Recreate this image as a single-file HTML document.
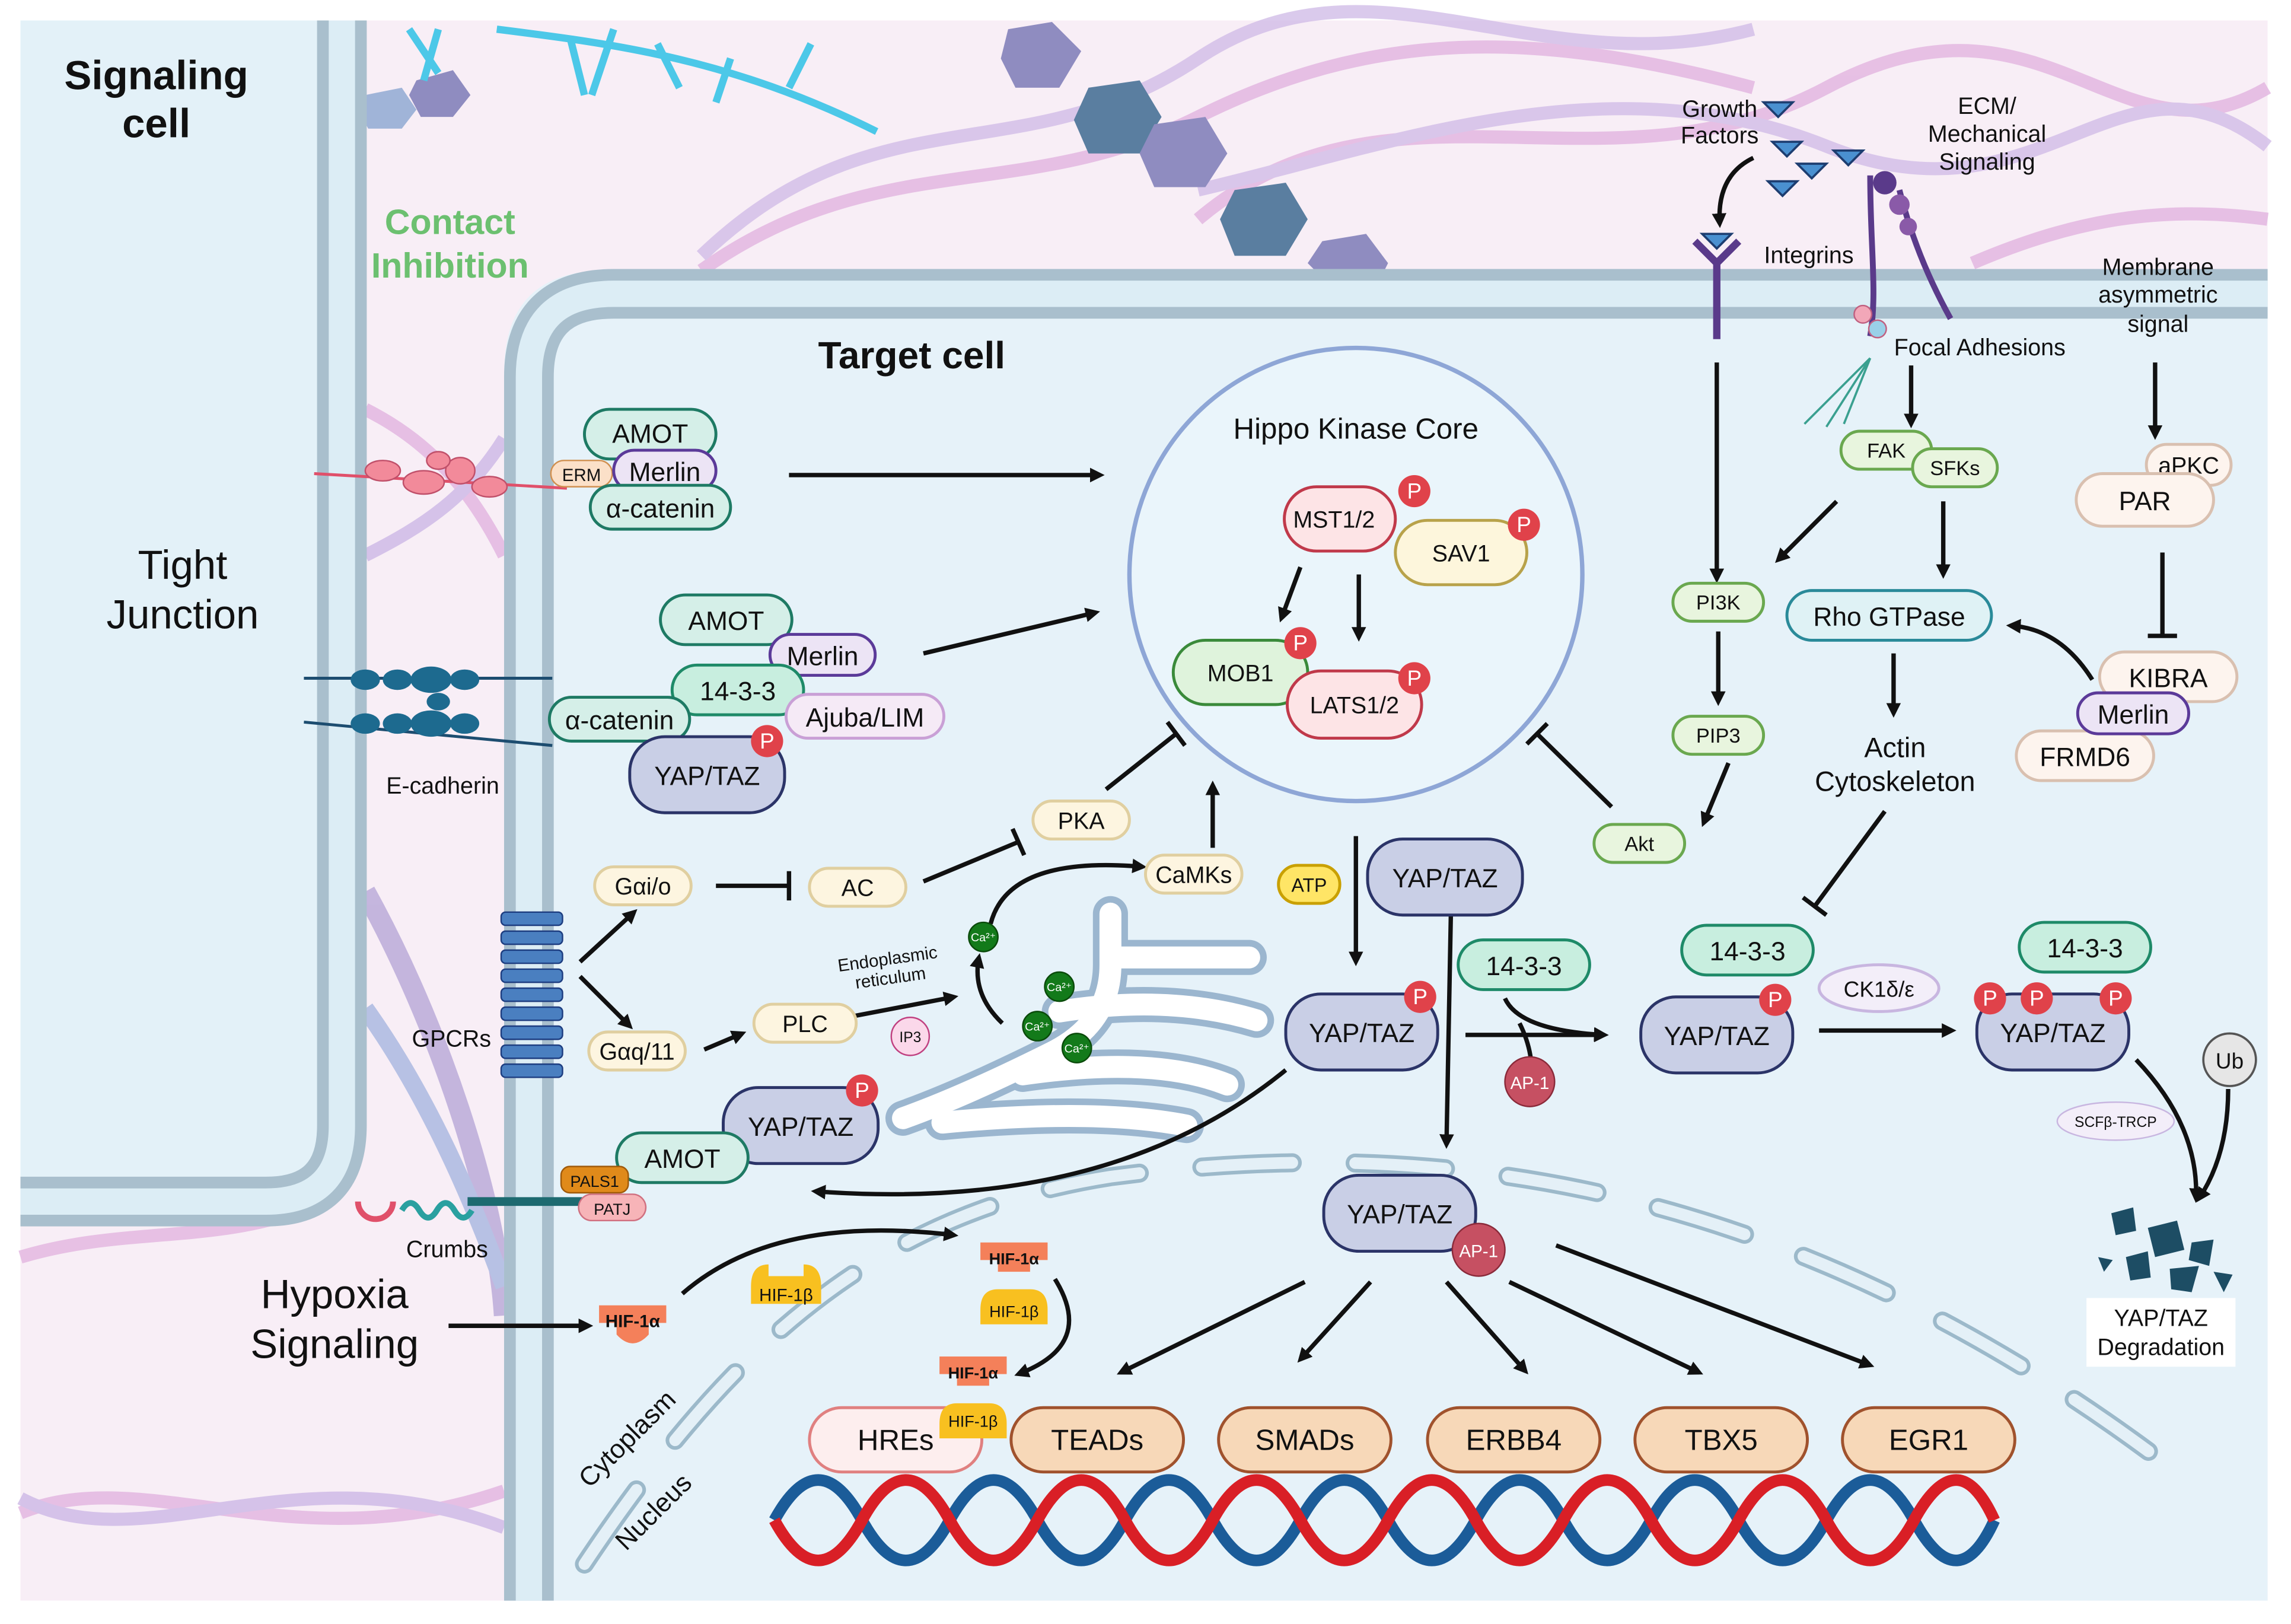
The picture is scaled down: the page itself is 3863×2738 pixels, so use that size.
<!DOCTYPE html>
<html><head><meta charset="utf-8"><style>
html,body{margin:0;padding:0;background:#fff;}
svg{display:block;}
text{font-family:"Liberation Sans",sans-serif;fill:#111;}
</style></head><body>
<svg width="3863" height="2738" viewBox="0 0 1568 1111" preserveAspectRatio="none" xmlns="http://www.w3.org/2000/svg">
<defs>
<marker id="ah" markerWidth="10" markerHeight="10" refX="7" refY="5" orient="auto" markerUnits="userSpaceOnUse"><path d="M0,0 L10,5 L0,10 Z" fill="#111"/></marker>
</defs>
<rect x="0" y="0" width="1568" height="1111" fill="#fff"/>
<rect x="14" y="14" width="1538" height="1081" fill="#f8eef6"/>
<g fill="none" stroke-width="9" opacity="0.8">
<path d="M480 185 C600 100 700 140 820 80 S1050 20 1200 60" stroke="#e2b4e0"/>
<path d="M480 175 C600 60 700 120 820 40 S1050 60 1200 20" stroke="#d2bde8"/>
<path d="M820 150 C950 40 1100 140 1250 60 S1450 120 1552 60" stroke="#e2b4e0"/>
<path d="M820 130 C950 100 1100 40 1250 100 S1450 20 1552 100" stroke="#d2bde8"/>
<path d="M1350 180 C1420 150 1480 140 1552 150" stroke="#e2b4e0"/>
<path d="M14 1035 C100 1000 200 1070 345 1020" stroke="#e2b4e0"/>
<path d="M14 1025 C100 1070 200 990 345 1045" stroke="#cdb8e6"/>
<path d="M14 860 C80 840 140 850 200 830" stroke="#e2b4e0"/>
<path d="M250 280 C290 300 320 330 345 380" stroke="#e2b4e0"/>
<path d="M250 380 C290 360 320 340 345 300" stroke="#cdb8e6"/>
<path d="M250 610 C300 700 340 820 345 900" stroke="#b8a8d8" stroke-width="14"/>
<path d="M250 690 C300 760 330 840 345 880" stroke="#a8b6e0" stroke-width="12"/>
</g>
<g fill="#8f8cc0">
<polygon points="690,20 720,15 740,35 725,60 695,60 685,40"/>
<polygon points="745,60 780,55 795,80 780,105 745,105 735,82" fill="#5a7ea0"/>
<polygon points="790,85 825,80 840,105 825,128 790,128 780,105"/>
<polygon points="845,130 880,125 895,150 880,175 845,175 835,150" fill="#5a7ea0"/>
<polygon points="905,165 935,160 950,180 945,190 905,190 895,180"/>
<polygon points="250,65 275,60 285,75 275,88 252,88 245,75" fill="#a0b4d8"/>
<polygon points="285,55 310,48 322,65 310,80 288,80 280,65"/>
</g>
<g stroke="#4cc8e8" stroke-width="5" fill="none">
<path d="M340 20 C420 30 500 40 600 90"/>
<path d="M280 20 l20 30 M300 20 l-10 35 M390 25 l10 40 M420 20 l-15 45 M450 30 l15 30 M500 40 l-10 30 M540 60 l15 -30"/>
</g>
<path d="M14 14 H234 V770 Q234 822 182 822 H14 Z" fill="#e3f1f8"/>
<path d="M234 14 V770 Q234 822 182 822 H14" fill="none" stroke="#a9bfcd" stroke-width="34"/>
<path d="M234 14 V770 Q234 822 182 822 H14" fill="none" stroke="#dcedf5" stroke-width="18"/>
<path d="M345 1095 V255 Q345 185 415 185 H1552 V1095 Z" fill="#e6f2f9"/>
<path d="M362 1095 V258 Q362 201 420 201 H1552" fill="none" stroke="#a9bfcd" stroke-width="34"/>
<path d="M362 1095 V258 Q362 201 420 201 H1552" fill="none" stroke="#dcedf5" stroke-width="18"/>
<!-- nucleus -->
<path d="M400 1070 C500 920 600 830 760 805 C950 780 1200 790 1480 1000" fill="none" stroke="#9cb9ca" stroke-width="13" stroke-dasharray="62 43" stroke-linecap="round"/>
<path d="M400 1070 C500 920 600 830 760 805 C950 780 1200 790 1480 1000" fill="none" stroke="#e4f0f7" stroke-width="8" stroke-dasharray="62 43" stroke-linecap="round"/>
<!-- DNA -->
<path d="M530 1040 Q560 985 590 1040 T650 1040 T710 1040 T770 1040 T830 1040 T890 1040 T950 1040 T1010 1040 T1070 1040 T1130 1040 T1190 1040 T1250 1040 T1310 1040 T1365 1040" fill="none" stroke="#1b5c99" stroke-width="8"/>
<path d="M530 1040 Q560 1095 590 1040 T650 1040 T710 1040 T770 1040 T830 1040 T890 1040 T950 1040 T1010 1040 T1070 1040 T1130 1040 T1190 1040 T1250 1040 T1310 1040 T1365 1040" fill="none" stroke="#d91f26" stroke-width="8"/>
<circle cx="928" cy="393" r="155" fill="#eaf5fb" stroke="#8ea6d6" stroke-width="3"/>
<!-- ER tubes -->
<g fill="none" stroke-linecap="round">
<g stroke="#9bb6cf" stroke-width="24">
<path d="M760 625 V660 Q760 700 720 720 Q660 750 618 765"/>
<path d="M765 655 H855"/>
<path d="M725 692 Q800 680 860 698"/>
<path d="M700 735 Q790 722 840 742"/>
<path d="M645 768 Q750 758 812 770"/>
</g>
<g stroke="#fff" stroke-width="15">
<path d="M760 625 V660 Q760 700 720 720 Q660 750 618 765"/>
<path d="M765 655 H855"/>
<path d="M725 692 Q800 680 860 698"/>
<path d="M700 735 Q790 722 840 742"/>
<path d="M645 768 Q750 758 812 770"/>
</g>
</g>
<text x="107" y="61" font-size="28" font-weight="bold" text-anchor="middle">Signaling</text>
<text x="107" y="94" font-size="28" font-weight="bold" text-anchor="middle">cell</text>
<text x="308" y="160" font-size="24" font-weight="bold" text-anchor="middle" style="fill:#6cc070">Contact</text>
<text x="308" y="190" font-size="24" font-weight="bold" text-anchor="middle" style="fill:#6cc070">Inhibition</text>
<text x="125" y="396" font-size="28" text-anchor="middle">Tight</text>
<text x="125" y="430" font-size="28" text-anchor="middle">Junction</text>
<text x="624" y="252" font-size="26" font-weight="bold" text-anchor="middle">Target cell</text>
<text x="928" y="300" font-size="20" text-anchor="middle">Hippo Kinase Core</text>
<text x="229" y="895" font-size="28" text-anchor="middle">Hypoxia</text>
<text x="229" y="929" font-size="28" text-anchor="middle">Signaling</text>
<text x="430" y="990" font-size="18" text-anchor="middle" transform="rotate(-45 430 985)">Cytoplasm</text>
<text x="448" y="1040" font-size="18" text-anchor="middle" transform="rotate(-45 448 1035)">Nucleus</text>
<text x="1177" y="80" font-size="16" text-anchor="middle">Growth</text>
<text x="1177" y="98" font-size="16" text-anchor="middle">Factors</text>
<text x="1360" y="78" font-size="16" text-anchor="middle">ECM/</text>
<text x="1360" y="97" font-size="16" text-anchor="middle">Mechanical</text>
<text x="1360" y="116" font-size="16" text-anchor="middle">Signaling</text>
<text x="1238" y="180" font-size="16" text-anchor="middle">Integrins</text>
<text x="1355" y="243" font-size="16" text-anchor="middle">Focal Adhesions</text>
<text x="1477" y="188" font-size="16" text-anchor="middle">Membrane</text>
<text x="1477" y="207" font-size="16" text-anchor="middle">asymmetric</text>
<text x="1477" y="227" font-size="16" text-anchor="middle">signal</text>
<text x="1297" y="518" font-size="19" text-anchor="middle">Actin</text>
<text x="1297" y="541" font-size="19" text-anchor="middle">Cytoskeleton</text>
<text x="303" y="543" font-size="16" text-anchor="middle">E-cadherin</text>
<text x="309" y="716" font-size="16" text-anchor="middle">GPCRs</text>
<text x="306" y="860" font-size="16" text-anchor="middle">Crumbs</text>
<text x="608" y="660" font-size="12" text-anchor="middle" transform="rotate(-8 608 660)">Endoplasmic</text>
<text x="610" y="673" font-size="12" text-anchor="middle" transform="rotate(-8 610 673)">reticulum</text>
<g fill="#4a90d0" stroke="#1d3d70" stroke-width="1.5">
<polygon points="1207,70 1227,70 1217,80"/><polygon points="1213,97 1233,97 1223,107"/><polygon points="1230,112 1250,112 1240,122"/><polygon points="1255,103 1275,103 1265,113"/><polygon points="1210,124 1230,124 1220,134"/><polygon points="1165,160 1185,160 1175,170"/>
</g>
<path d="M1160 165 L1175 180 L1190 165 M1175 180 V232" fill="none" stroke="#5a3a8a" stroke-width="5"/>
<path d="M1280 120 C1280 170 1285 200 1280 230 M1300 130 C1310 170 1325 200 1335 218" fill="none" stroke="#5a3a8a" stroke-width="4"/>
<circle cx="1290" cy="125" r="8" fill="#5a3a8a"/><circle cx="1300" cy="140" r="7" fill="#8a5aa8"/><circle cx="1306" cy="155" r="6" fill="#8a5aa8"/>
<g fill="#f2a7b8" stroke="#c06080"><circle cx="1275" cy="215" r="6"/><circle cx="1285" cy="225" r="6" fill="#9ad0e8"/></g>
<path d="M1280 245 L1235 290 M1280 245 L1250 292 M1280 245 L1262 290" stroke="#3aa090" stroke-width="1.5"/>
<line x1="215" y1="324" x2="388" y2="334" stroke="#e0506a" stroke-width="2"/>
<g fill="#f28a9a" stroke="#c0506a"><ellipse cx="262" cy="322" rx="12" ry="7"/><ellipse cx="290" cy="330" rx="14" ry="8"/><ellipse cx="315" cy="322" rx="10" ry="9"/><ellipse cx="335" cy="333" rx="12" ry="7"/><ellipse cx="300" cy="315" rx="8" ry="6"/></g>
<line x1="208" y1="464" x2="378" y2="464" stroke="#1d4d70" stroke-width="2"/><line x1="208" y1="494" x2="378" y2="510" stroke="#1d4d70" stroke-width="2"/>
<g fill="#1d6a8f"><ellipse cx="250" cy="465" rx="10" ry="7"/><ellipse cx="272" cy="465" rx="10" ry="7"/><ellipse cx="295" cy="465" rx="14" ry="9"/><ellipse cx="318" cy="465" rx="10" ry="7"/><ellipse cx="250" cy="495" rx="10" ry="7"/><ellipse cx="272" cy="495" rx="10" ry="7"/><ellipse cx="295" cy="495" rx="14" ry="9"/><ellipse cx="318" cy="495" rx="10" ry="7"/><ellipse cx="300" cy="480" rx="8" ry="6"/></g>
<g fill="#4a7fc0" stroke="#1d3d80" stroke-width="1">
<rect x="343" y="624" width="42" height="9" rx="3"/><rect x="343" y="637" width="42" height="9" rx="3"/><rect x="343" y="650" width="42" height="9" rx="3"/><rect x="343" y="663" width="42" height="9" rx="3"/><rect x="343" y="676" width="42" height="9" rx="3"/><rect x="343" y="689" width="42" height="9" rx="3"/><rect x="343" y="702" width="42" height="9" rx="3"/><rect x="343" y="715" width="42" height="9" rx="3"/><rect x="343" y="728" width="42" height="9" rx="3"/>
</g>
<path d="M245 822 a12 12 0 0 0 24 0" fill="none" stroke="#e0506a" stroke-width="4"/>
<path d="M275 828 q6 -10 12 0 t12 0 t12 0 t12 0" fill="none" stroke="#2aa0a0" stroke-width="4"/>
<line x1="320" y1="822" x2="420" y2="822" stroke="#1d6a70" stroke-width="6"/>
<g fill="#1d4d64"><polygon points="1445,830 1460,826 1462,842 1448,845"/><polygon points="1470,840 1490,835 1495,855 1475,860"/><polygon points="1500,850 1515,848 1512,866 1498,862"/><polygon points="1455,860 1470,856 1472,874 1458,876"/><polygon points="1485,868 1505,866 1500,884 1486,882"/><polygon points="1515,870 1528,872 1522,884"/><polygon points="1436,860 1446,862 1440,870"/></g>
<rect x="1428" y="888" width="102" height="47" fill="#fff"/>
<text x="1479" y="907" font-size="16" text-anchor="middle">YAP/TAZ</text>
<text x="1479" y="927" font-size="16" text-anchor="middle">Degradation</text>
<g stroke="#111" stroke-width="3" fill="none" marker-end="url(#ah)">
<line x1="540" y1="325" x2="753" y2="325"/>
<line x1="632" y1="447" x2="750" y2="419"/>
<line x1="830" y1="580" x2="830" y2="537"/>
<path d="M678 632 Q690 585 782 593"/>
<line x1="482" y1="718" x2="508" y2="707"/>
<line x1="585" y1="695" x2="653" y2="682"/>
<path d="M686 700 Q665 680 670 655"/>
<line x1="397" y1="658" x2="434" y2="624"/>
<line x1="397" y1="668" x2="431" y2="702"/>
<line x1="1176" y1="432" x2="1176" y2="480"/>
<line x1="1183" y1="522" x2="1166" y2="563"/>
<path d="M1200 108 Q1175 120 1177 153"/>
<line x1="1175" y1="248" x2="1175" y2="396"/>
<line x1="1308" y1="250" x2="1308" y2="290"/>
<line x1="1257" y1="343" x2="1217" y2="383"/>
<line x1="1330" y1="343" x2="1330" y2="393"/>
<line x1="1296" y1="447" x2="1296" y2="488"/>
<path d="M1432 465 Q1410 430 1376 428"/>
<line x1="1475" y1="248" x2="1475" y2="298"/>
<line x1="928" y1="572" x2="928" y2="658"/>
<line x1="890" y1="388" x2="877" y2="423"/>
<line x1="930" y1="393" x2="930" y2="436"/>
<line x1="1003" y1="708" x2="1098" y2="708"/>
<path d="M1030 683 Q1040 705 1098 708"/>
<line x1="993" y1="625" x2="990" y2="783"/>
<line x1="1245" y1="705" x2="1336" y2="705"/>
<path d="M1462 725 Q1505 770 1503 820"/>
<path d="M1525 745 Q1525 790 1505 820"/>
<path d="M880 732 Q760 830 558 815"/>
<line x1="893" y1="877" x2="767" y2="939"/>
<line x1="938" y1="877" x2="890" y2="930"/>
<line x1="990" y1="877" x2="1044" y2="938"/>
<line x1="1033" y1="877" x2="1163" y2="939"/>
<line x1="1065" y1="852" x2="1280" y2="934"/>
<line x1="307" y1="907" x2="403" y2="907"/>
<path d="M467 885 Q530 830 653 845"/>
<path d="M722 875 Q750 920 697 940"/>
</g>
<g stroke="#111" stroke-width="3" fill="none">
<line x1="490" y1="606" x2="540" y2="606"/><line x1="540" y1="596" x2="540" y2="616"/>
<line x1="632" y1="603" x2="697" y2="576"/><line x1="693" y1="567" x2="701" y2="585"/>
<line x1="757" y1="540" x2="805" y2="502"/><line x1="799" y1="494" x2="811" y2="510"/>
<line x1="1103" y1="552" x2="1052" y2="502"/><line x1="1045" y1="509" x2="1059" y2="495"/>
<line x1="1290" y1="555" x2="1242" y2="620"/><line x1="1234" y1="614" x2="1250" y2="626"/>
<line x1="1480" y1="378" x2="1480" y2="435"/><line x1="1470" y1="435" x2="1490" y2="435"/>
<path d="M1040 700 Q1050 720 1048 740"/>
</g>
<g font-size="18" text-anchor="middle">
<rect x="400" y="280" width="90" height="34" rx="17" fill="#d5efe8" stroke="#1e7a64" stroke-width="2"/><text x="445" y="303">AMOT</text>
<rect x="377" y="315" width="42" height="18" rx="9" fill="#fbe0c8" stroke="#d09050"/><text x="398" y="329" font-size="12">ERM</text>
<rect x="420" y="308" width="70" height="28" rx="14" fill="#ece4f5" stroke="#5b3a99" stroke-width="2"/><text x="455" y="329">Merlin</text>
<rect x="404" y="332" width="96" height="30" rx="15" fill="#d5efe8" stroke="#1e7a64" stroke-width="2"/><text x="452" y="354">α-catenin</text>
<rect x="452" y="407" width="90" height="34" rx="17" fill="#d5efe8" stroke="#1e7a64" stroke-width="2"/><text x="497" y="431">AMOT</text>
<rect x="527" y="434" width="72" height="28" rx="14" fill="#ece4f5" stroke="#5b3a99" stroke-width="2"/><text x="563" y="455">Merlin</text>
<rect x="460" y="455" width="90" height="34" rx="17" fill="#c8eedf" stroke="#1e8a68" stroke-width="2"/><text x="505" y="479">14-3-3</text>
<rect x="538" y="475" width="108" height="30" rx="15" fill="#f5eaf6" stroke="#c9a0d6" stroke-width="2"/><text x="592" y="497">Ajuba/LIM</text>
<rect x="376" y="477" width="96" height="30" rx="15" fill="#d5efe8" stroke="#1e7a64" stroke-width="2"/><text x="424" y="499">α-catenin</text>
<rect x="431" y="504" width="106" height="52" rx="24" fill="#c9cfe6" stroke="#2b3468" stroke-width="2"/><text x="484" y="537">YAP/TAZ</text>
<rect x="407" y="593" width="66" height="26" rx="13" fill="#fdf5e0" stroke="#e0cfa0" stroke-width="2"/><text x="440" y="612" font-size="16">Gαi/o</text>
<rect x="554" y="594" width="66" height="26" rx="13" fill="#fdf5e0" stroke="#e0cfa0" stroke-width="2"/><text x="587" y="613" font-size="16">AC</text>
<rect x="707" y="548" width="66" height="26" rx="13" fill="#fdf5e0" stroke="#e0cfa0" stroke-width="2"/><text x="740" y="567" font-size="16">PKA</text>
<rect x="784" y="585" width="66" height="26" rx="13" fill="#fdf5e0" stroke="#e0cfa0" stroke-width="2"/><text x="817" y="604" font-size="16">CaMKs</text>
<rect x="403" y="706" width="66" height="26" rx="13" fill="#fdf5e0" stroke="#e0cfa0" stroke-width="2"/><text x="436" y="725" font-size="16">Gαq/11</text>
<rect x="516" y="687" width="70" height="26" rx="13" fill="#fdf5e0" stroke="#e0cfa0" stroke-width="2"/><text x="551" y="706" font-size="16">PLC</text>
<rect x="875" y="592" width="42" height="26" rx="13" fill="#ffe566" stroke="#c9a000" stroke-width="2"/><text x="896" y="610" font-size="13">ATP</text>
<circle cx="623" cy="709" r="13" fill="#fbd8ea" stroke="#c04080"/><text x="623" y="713" font-size="10">IP3</text>
<rect x="495" y="744" width="106" height="52" rx="24" fill="#c9cfe6" stroke="#2b3468" stroke-width="2"/><text x="548" y="777">YAP/TAZ</text>
<rect x="422" y="775" width="90" height="34" rx="17" fill="#d5efe8" stroke="#1e7a64" stroke-width="2"/><text x="467" y="799">AMOT</text>
<rect x="384" y="798" width="46" height="18" rx="6" fill="#e08a1a" stroke="#a05a0a"/><text x="407" y="812" font-size="11">PALS1</text>
<rect x="396" y="817" width="46" height="18" rx="9" fill="#f7b4b8" stroke="#d07080"/><text x="419" y="831" font-size="11">PATJ</text>
<rect x="879" y="333" width="76" height="44" rx="22" fill="#fde4e6" stroke="#c0394a" stroke-width="2"/><text x="913" y="361" font-size="16">MST1/2</text>
<rect x="955" y="356" width="90" height="44" rx="22" fill="#fdf6dc" stroke="#b8a24a" stroke-width="2"/><text x="1000" y="384" font-size="16">SAV1</text>
<rect x="803" y="438" width="92" height="44" rx="22" fill="#dff3dc" stroke="#3a8a3a" stroke-width="2"/><text x="849" y="466" font-size="16">MOB1</text>
<rect x="881" y="459" width="92" height="46" rx="23" fill="#fde4e6" stroke="#c0394a" stroke-width="2"/><text x="927" y="488" font-size="16">LATS1/2</text>
<rect x="936" y="574" width="106" height="52" rx="24" fill="#c9cfe6" stroke="#2b3468" stroke-width="2"/><text x="989" y="607">YAP/TAZ</text>
<rect x="998" y="643" width="90" height="34" rx="17" fill="#c8eedf" stroke="#1e8a68" stroke-width="2"/><text x="1043" y="667">14-3-3</text>
<rect x="880" y="680" width="104" height="52" rx="24" fill="#c9cfe6" stroke="#2b3468" stroke-width="2"/><text x="932" y="713">YAP/TAZ</text>
<rect x="1151" y="633" width="90" height="34" rx="17" fill="#c8eedf" stroke="#1e8a68" stroke-width="2"/><text x="1196" y="657">14-3-3</text>
<rect x="1123" y="682" width="104" height="52" rx="24" fill="#c9cfe6" stroke="#2b3468" stroke-width="2"/><text x="1175" y="715">YAP/TAZ</text>
<ellipse cx="1286" cy="676" rx="41" ry="16" fill="#f3eef9" stroke="#c8b6e0" stroke-width="2"/><text x="1286" y="682" font-size="15">CK1δ/ε</text>
<rect x="1382" y="631" width="90" height="34" rx="17" fill="#c8eedf" stroke="#1e8a68" stroke-width="2"/><text x="1427" y="655">14-3-3</text>
<rect x="1353" y="680" width="104" height="52" rx="24" fill="#c9cfe6" stroke="#2b3468" stroke-width="2"/><text x="1405" y="713">YAP/TAZ</text>
<circle cx="1526" cy="725" r="18" fill="#e6e6e6" stroke="#555" stroke-width="1.5"/><text x="1526" y="731" font-size="15">Ub</text>
<ellipse cx="1448" cy="767" rx="40" ry="13" fill="#f3eef9" stroke="#c8b6e0"/><text x="1448" y="771" font-size="10">SCFβ-TRCP</text>
<rect x="906" y="804" width="104" height="52" rx="24" fill="#c9cfe6" stroke="#2b3468" stroke-width="2"/><text x="958" y="837">YAP/TAZ</text>
<rect x="1260" y="295" width="62" height="26" rx="13" fill="#e8f5de" stroke="#6aa84f" stroke-width="2"/><text x="1291" y="313" font-size="14">FAK</text>
<rect x="1309" y="307" width="58" height="26" rx="13" fill="#e8f5de" stroke="#6aa84f" stroke-width="2"/><text x="1338" y="325" font-size="14">SFKs</text>
<rect x="1145" y="399" width="62" height="26" rx="13" fill="#e8f5de" stroke="#6aa84f" stroke-width="2"/><text x="1176" y="417" font-size="14">PI3K</text>
<rect x="1145" y="490" width="62" height="26" rx="13" fill="#e8f5de" stroke="#6aa84f" stroke-width="2"/><text x="1176" y="508" font-size="14">PIP3</text>
<rect x="1091" y="564" width="62" height="26" rx="13" fill="#e8f5de" stroke="#6aa84f" stroke-width="2"/><text x="1122" y="582" font-size="14">Akt</text>
<rect x="1223" y="404" width="140" height="34" rx="17" fill="#dff2f5" stroke="#2a8a99" stroke-width="2"/><text x="1293" y="428">Rho GTPase</text>
<rect x="1469" y="304" width="58" height="28" rx="14" fill="#fdf4ee" stroke="#d9c0b0" stroke-width="2"/><text x="1498" y="324" font-size="16">aPKC</text>
<rect x="1421" y="324" width="94" height="36" rx="18" fill="#fdf4ee" stroke="#d9c0b0" stroke-width="2"/><text x="1468" y="349">PAR</text>
<rect x="1437" y="446" width="94" height="34" rx="17" fill="#fdf4ee" stroke="#d9c0b0" stroke-width="2"/><text x="1484" y="470">KIBRA</text>
<rect x="1380" y="500" width="94" height="34" rx="17" fill="#fdf4ee" stroke="#d9c0b0" stroke-width="2"/><text x="1427" y="524">FRMD6</text>
<rect x="1422" y="474" width="76" height="28" rx="14" fill="#ece4f5" stroke="#5b3a99" stroke-width="2"/><text x="1460" y="495">Merlin</text>
<rect x="554" y="963" width="118" height="44" rx="22" fill="#fdeeee" stroke="#e08080" stroke-width="2"/><text x="613" y="992" font-size="20">HREs</text>
<rect x="692" y="963" width="118" height="44" rx="22" fill="#f7d8b8" stroke="#a0522d" stroke-width="2"/><text x="751" y="992" font-size="20">TEADs</text>
<rect x="834" y="963" width="118" height="44" rx="22" fill="#f7d8b8" stroke="#a0522d" stroke-width="2"/><text x="893" y="992" font-size="20">SMADs</text>
<rect x="977" y="963" width="118" height="44" rx="22" fill="#f7d8b8" stroke="#a0522d" stroke-width="2"/><text x="1036" y="992" font-size="20">ERBB4</text>
<rect x="1119" y="963" width="118" height="44" rx="22" fill="#f7d8b8" stroke="#a0522d" stroke-width="2"/><text x="1178" y="992" font-size="20">TBX5</text>
<rect x="1261" y="963" width="118" height="44" rx="22" fill="#f7d8b8" stroke="#a0522d" stroke-width="2"/><text x="1320" y="992" font-size="20">EGR1</text>
</g>
<g font-size="15" text-anchor="middle">
<g fill="#e0424a"><circle cx="525" cy="507" r="11"/><circle cx="590" cy="746" r="11"/><circle cx="968" cy="336" r="11"/><circle cx="1043" cy="359" r="11"/><circle cx="890" cy="440" r="11"/><circle cx="968" cy="464" r="11"/><circle cx="972" cy="682" r="11"/><circle cx="1215" cy="684" r="11"/><circle cx="1362" cy="683" r="11"/><circle cx="1394" cy="683" r="11"/><circle cx="1448" cy="683" r="11"/></g>
<text x="525" y="512" style="fill:#fff">P</text><text x="590" y="751" style="fill:#fff">P</text><text x="968" y="341" style="fill:#fff">P</text><text x="1043" y="364" style="fill:#fff">P</text><text x="890" y="445" style="fill:#fff">P</text><text x="968" y="469" style="fill:#fff">P</text><text x="972" y="687" style="fill:#fff">P</text><text x="1215" y="689" style="fill:#fff">P</text><text x="1362" y="688" style="fill:#fff">P</text><text x="1394" y="688" style="fill:#fff">P</text><text x="1448" y="688" style="fill:#fff">P</text>
<circle cx="1047" cy="740" r="17" fill="#c65062" stroke="#8a2a3a"/><text x="1047" y="745" font-size="12" style="fill:#fff">AP-1</text>
<circle cx="1012" cy="855" r="18" fill="#c65062" stroke="#8a2a3a"/><text x="1012" y="860" font-size="12" style="fill:#fff">AP-1</text>
<g fill="#137a1a" stroke="#0a4a0a"><circle cx="673" cy="641" r="10"/><circle cx="725" cy="675" r="10"/><circle cx="710" cy="702" r="10"/><circle cx="737" cy="717" r="10"/></g>
<g font-size="8"><text x="673" y="644" style="fill:#fff">Ca²⁺</text><text x="725" y="678" style="fill:#fff">Ca²⁺</text><text x="710" y="705" style="fill:#fff">Ca²⁺</text><text x="737" y="720" style="fill:#fff">Ca²⁺</text></g>
<path d="M410 893 h46 v12 h-12 v8 q-11 12 -22 0 v-8 h-12 z" fill="#f4805a"/><text x="433" y="908" font-size="12" font-weight="bold">HIF-1α</text>
<path d="M514 880 q0 -15 12 -15 h0 v8 h24 v-8 q12 0 12 15 v12 h-48 z" fill="#f8c020"/><text x="538" y="890" font-size="12">HIF-1β</text>
<path d="M671 850 h46 v12 h-12 v8 h-22 v-8 h-12 z" fill="#f4805a"/><text x="694" y="865" font-size="11" font-weight="bold">HIF-1α</text>
<path d="M671 896 q0 -14 12 -14 h22 q12 0 12 14 v10 h-46 z" fill="#f8c020"/><text x="694" y="901" font-size="11">HIF-1β</text>
<path d="M643 928 h46 v12 h-12 v8 h-22 v-8 h-12 z" fill="#f4805a"/><text x="666" y="943" font-size="11" font-weight="bold">HIF-1α</text>
<path d="M643 974 q0 -14 12 -14 h22 q12 0 12 14 v10 h-46 z" fill="#f8c020"/><text x="666" y="976" font-size="11">HIF-1β</text>
</g>
</svg>
</body></html>
